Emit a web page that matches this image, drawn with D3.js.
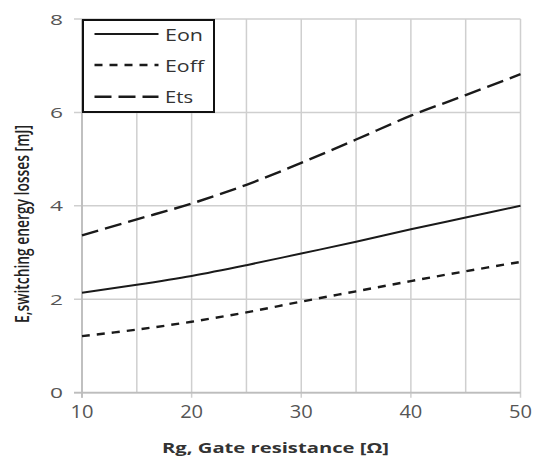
<!DOCTYPE html>
<html>
<head>
<meta charset="utf-8">
<script src="https://cdn.jsdelivr.net/npm/d3@7"></script>
<style>
  html, body { margin: 0; padding: 0; background: #fff; }
  svg { display: block; }
  text { font-family: "Open Sans", "DejaVu Sans", sans-serif; }
</style>
</head>
<body>
<svg id="chart" width="536" height="456"></svg>
<script>
// Gate resistance [Ω]
const rg = [10, 15, 20, 25, 30, 35, 40, 45, 50];
// Switching energy losses [mJ]
const eon  = [2.14, 2.31, 2.50, 2.73, 2.98, 3.23, 3.50, 3.75, 4.00];
const eoff = [1.21, 1.35, 1.52, 1.72, 1.95, 2.17, 2.39, 2.60, 2.80];
const ets  = [3.37, 3.71, 4.05, 4.45, 4.92, 5.42, 5.93, 6.37, 6.82];

const xTicks = [10, 20, 30, 40, 50];
const xGrid = [10, 15, 20, 25, 30, 35, 40, 45, 50];
const yTicks = [0, 2, 4, 6, 8];

const seriesNames = ["Eon", "Eoff", "Ets"];
const seriesValues = [eon, eoff, ets];
const seriesDash = [null, "8,7", "17,7"];
const seriesWidth = [2, 2.4, 2.4];

const svg = d3.select("#chart");

const x = d3.scaleLinear().domain([10, 50]).range([82, 520.5]);
const y = d3.scaleLinear().domain([0, 8]).range([392.7, 19]);

const gridColor = "#cfcfcf";

// vertical grid lines
svg.append("g").selectAll("line").data(xGrid).join("line")
  .attr("x1", d => x(d)).attr("x2", d => x(d))
  .attr("y1", y(8)).attr("y2", d => xTicks.includes(d) ? y(0) + 5 : y(0))
  .attr("stroke", gridColor).attr("stroke-width", 1.5);

// horizontal grid lines with left ticks
svg.append("g").selectAll("line").data(yTicks).join("line")
  .attr("x1", x(10) - 8).attr("x2", x(50))
  .attr("y1", d => y(d)).attr("y2", d => y(d))
  .attr("stroke", gridColor).attr("stroke-width", 1.5);

// axis lines
svg.append("line")
  .attr("x1", x(10)).attr("x2", x(10)).attr("y1", y(8)).attr("y2", y(0) + 5)
  .attr("stroke", "#bdbdbd").attr("stroke-width", 1.8);
svg.append("line")
  .attr("x1", x(10) - 8).attr("x2", x(50)).attr("y1", y(0)).attr("y2", y(0))
  .attr("stroke", "#bdbdbd").attr("stroke-width", 1.8);

// y tick labels
svg.append("g").selectAll("text").data(yTicks).join("text")
  .attr("x", 63).attr("y", d => y(d) + 5.5)
  .attr("text-anchor", "end")
  .attr("font-size", 15)
  .attr("textLength", 13).attr("lengthAdjust", "spacingAndGlyphs")
  .attr("fill", "#555")
  .text(d => d);

// x tick labels
svg.append("g").selectAll("text").data(xTicks).join("text")
  .attr("x", d => x(d)).attr("y", 418)
  .attr("text-anchor", "middle")
  .attr("font-size", 18)
  .attr("textLength", 23).attr("lengthAdjust", "spacingAndGlyphs")
  .attr("fill", "#555")
  .text(d => d);

// axis titles
svg.append("text")
  .attr("x", 275.5).attr("y", 453)
  .attr("text-anchor", "middle")
  .attr("font-size", 15).attr("font-weight", "bold")
  .attr("textLength", 227).attr("lengthAdjust", "spacingAndGlyphs")
  .attr("fill", "#333")
  .text("Rg, Gate resistance [Ω]");

svg.append("text")
  .attr("transform", "translate(29,224) rotate(-90)")
  .attr("text-anchor", "middle")
  .attr("font-size", 20).attr("font-weight", 600)
  .attr("textLength", 198).attr("lengthAdjust", "spacingAndGlyphs")
  .attr("fill", "#222")
  .text("E,switching energy losses [mJ]");

// curves
const line = d3.line()
  .x((d, i) => x(rg[i]))
  .y(d => y(d))
  .curve(d3.curveCatmullRom.alpha(0.5));

svg.append("g").selectAll("path").data(seriesValues).join("path")
  .attr("d", d => line(d))
  .attr("fill", "none")
  .attr("stroke", "#1a1a1a")
  .attr("stroke-width", (d, i) => seriesWidth[i])
  .attr("stroke-dasharray", (d, i) => seriesDash[i]);

// legend
const legend = svg.append("g");
legend.append("rect")
  .attr("x", 83).attr("y", 20).attr("width", 131).attr("height", 92)
  .attr("fill", "#fff").attr("stroke", "#111").attr("stroke-width", 2);

const rowsY = [34, 65, 96.7];
const textLen = [38, 39, 28];
seriesNames.forEach((name, i) => {
  legend.append("line")
    .attr("x1", 94.5).attr("x2", 158.5)
    .attr("y1", rowsY[i]).attr("y2", rowsY[i])
    .attr("stroke", "#1a1a1a")
    .attr("stroke-width", seriesWidth[i])
    .attr("stroke-dasharray", seriesDash[i]);
  legend.append("text")
    .attr("x", 165).attr("y", rowsY[i] + 6.5)
    .attr("font-size", 17)
    .attr("textLength", textLen[i]).attr("lengthAdjust", "spacingAndGlyphs")
    .attr("fill", "#333")
    .text(name);
});
</script>
</body>
</html>
